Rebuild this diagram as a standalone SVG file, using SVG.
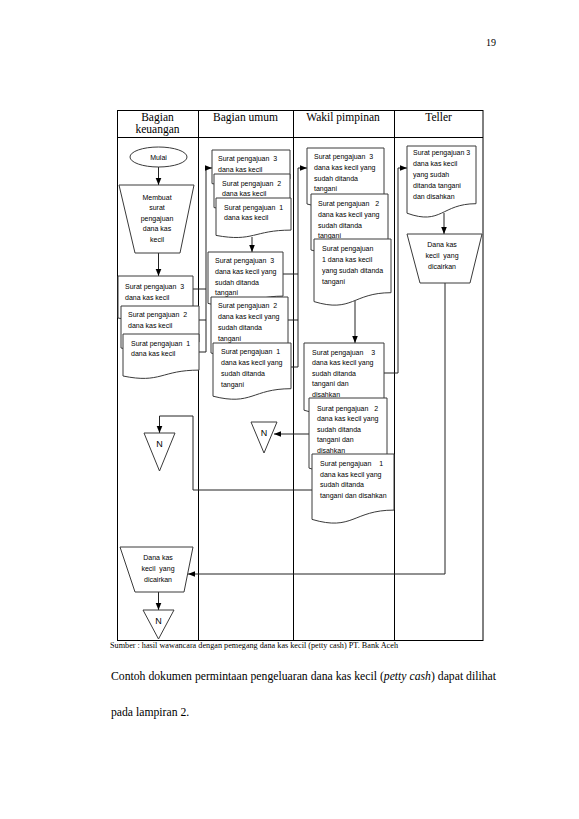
<svg xmlns="http://www.w3.org/2000/svg" width="579" height="819" viewBox="0 0 579 819">
<defs>
<style>
.hd{font-family:"Liberation Serif","Times New Roman",serif;font-size:11.5px;fill:#000;text-anchor:middle}
.t{font-family:"Liberation Sans",Arial,sans-serif;font-size:7px;fill:#000;white-space:pre}
.c{text-anchor:middle}
.shp{fill:#fff;stroke:#3a3a3a;stroke-width:1}
.ln{fill:none;stroke:#000;stroke-width:1}
.cn{fill:none;stroke:#222;stroke-width:1}
.n{font-family:"Liberation Sans",Arial,sans-serif;font-size:9px;fill:#000;text-anchor:middle}
.sr{font-family:"Liberation Serif","Times New Roman",serif;fill:#000}
</style>
<marker id="ah" viewBox="0 0 10 10" refX="10" refY="5" markerWidth="7" markerHeight="7" orient="auto" markerUnits="userSpaceOnUse"><path d="M0,1 L10,5 L0,9 Z" fill="#000"/></marker>
</defs>
<rect width="579" height="819" fill="#fff"/>
<text class="sr" x="496" y="45.5" font-size="10" text-anchor="end">19</text>

<g id="lanes">
<rect class="ln" x="117.5" y="110.5" width="365.5" height="530"/>
<line class="ln" x1="117.5" y1="137.5" x2="483" y2="137.5"/>
<line class="ln" x1="198.5" y1="110.5" x2="198.5" y2="640.5"/>
<line class="ln" x1="293.5" y1="110.5" x2="293.5" y2="640.5"/>
<line class="ln" x1="394.5" y1="110.5" x2="394.5" y2="640.5"/>
<text class="hd" x="157.5" y="121">Bagian</text>
<text class="hd" x="157.5" y="133">keuangan</text>
<text class="hd" x="245.5" y="121">Bagian umum</text>
<text class="hd" x="343" y="121">Wakil pimpinan</text>
<text class="hd" x="438.5" y="121">Teller</text>
</g>

<g id="connectors">
<line class="cn" x1="158.5" y1="167" x2="158.5" y2="185" marker-end="url(#ah)"/>
<line class="cn" x1="158.5" y1="253" x2="158.5" y2="276" marker-end="url(#ah)"/>
<polyline class="cn" points="193,289 206,289"/>
<polyline class="cn" points="199,320 206,320"/>
<polyline class="cn" points="199,352 206,352 206,168 212,168" marker-end="url(#ah)"/>
<line class="cn" x1="252" y1="237" x2="252" y2="252" marker-end="url(#ah)"/>
<polyline class="cn" points="283,274 298,274"/>
<polyline class="cn" points="288,320 298,320"/>
<polyline class="cn" points="291,367 298,367 298,168 307,168" marker-end="url(#ah)"/>
<line class="cn" x1="355" y1="301" x2="355" y2="343" marker-end="url(#ah)"/>
<polyline class="cn" points="384,373 398,373 398,168 407,168" marker-end="url(#ah)"/>
<line class="cn" x1="309" y1="434" x2="274" y2="434" marker-end="url(#ah)"/>
<polyline class="cn" points="312,490 193,490 193,416 159.5,416 159.5,433" marker-end="url(#ah)"/>
<line class="cn" x1="444" y1="213" x2="444" y2="234" marker-end="url(#ah)"/>
<polyline class="cn" points="445,283 445,574 188,574" marker-end="url(#ah)"/>
<line class="cn" x1="158.5" y1="592" x2="158.5" y2="610" marker-end="url(#ah)"/>
</g>

<g id="mulai">
<ellipse class="shp" cx="158.5" cy="157" rx="28.5" ry="10"/>
<text class="t c" x="158.5" y="159.5">Mulai</text>
</g>

<g id="membuat">
<path class="shp" d="M119,185 H194 L180,253 H135 Z"/>
<text class="t c" x="157" y="199.5">Membuat</text>
<text class="t c" x="157" y="210">surat</text>
<text class="t c" x="157" y="220.5">pengajuan</text>
<text class="t c" x="157" y="231">dana kas</text>
<text class="t c" x="157" y="241.5">kecil</text>
</g>

<g id="keu-docs">
<path class="shp" d="M118,276 H193 V312.1 C155.5,312.1 155.5,325.8 118,318 Z"/>
<text class="t" x="125" y="288.5">Surat pengajuan  3</text>
<text class="t" x="125" y="299.5">dana kas kecil</text>
<path class="shp" d="M121,306 H199 V342.1 C160,342.1 160,355.8 121,348 Z"/>
<text class="t" x="128" y="316.5">Surat pengajuan  2</text>
<text class="t" x="128" y="327.5">dana kas kecil</text>
<path class="shp" d="M123,334 H199 V370.1 C161,370.1 161,383.8 123,376 Z"/>
<text class="t" x="131" y="345.5">Surat pengajuan  1</text>
<text class="t" x="131" y="356">dana kas kecil</text>
</g>

<g id="umum-docs-a">
<path class="shp" d="M212,150 H290 V178.9 C251,178.9 251,189.9 212,183.6 Z"/>
<text class="t" x="218" y="160.5">Surat pengajuan  3</text>
<text class="t" x="218" y="172">dana kas kecil</text>
<path class="shp" d="M214,174 H290 V202.9 C252,202.9 252,213.9 214,207.6 Z"/>
<text class="t" x="222" y="185.5">Surat pengajuan  2</text>
<text class="t" x="222" y="196">dana kas kecil</text>
<path class="shp" d="M216,198 H291 V230.1 C253.5,230.1 253.5,242.3 216,235.4 Z"/>
<text class="t" x="224" y="209.5">Surat pengajuan  1</text>
<text class="t" x="224" y="220">dana kas kecil</text>
</g>

<g id="umum-docs-b">
<path class="shp" d="M208,252 H283 V296.1 C245.5,296.1 245.5,312.9 208,303.4 Z"/>
<text class="t" x="215" y="262.5">Surat pengajuan  3</text>
<text class="t" x="215" y="273.5">dana kas kecil yang</text>
<text class="t" x="215" y="284.5">sudah ditanda</text>
<text class="t" x="215" y="295">tangani</text>
<path class="shp" d="M211,297 H288 V345.1 C249.5,345.1 249.5,363.4 211,353 Z"/>
<text class="t" x="218" y="307.5">Surat pengajuan  2</text>
<text class="t" x="218" y="318.5">dana kas kecil yang</text>
<text class="t" x="218" y="330">sudah ditanda</text>
<text class="t" x="218" y="340.5">tangani</text>
<path class="shp" d="M213,343 H291 V388.7 C252,388.7 252,406.1 213,396.2 Z"/>
<text class="t" x="221" y="353.5">Surat pengajuan  1</text>
<text class="t" x="221" y="364.5">dana kas kecil yang</text>
<text class="t" x="221" y="376">sudah ditanda</text>
<text class="t" x="221" y="387">tangani</text>
</g>

<g id="wakil-docs-a">
<path class="shp" d="M307,148 H384 V196.1 C345.5,196.1 345.5,214.4 307,204 Z"/>
<text class="t" x="314" y="158.5">Surat pengajuan  3</text>
<text class="t" x="314" y="169.5">dana kas kecil yang</text>
<text class="t" x="314" y="180.5">sudah ditanda</text>
<text class="t" x="314" y="191">tangani</text>
<path class="shp" d="M311,194 H388 V242.1 C349.5,242.1 349.5,260.4 311,250 Z"/>
<text class="t" x="318" y="205.5">Surat pengajuan   2</text>
<text class="t" x="318" y="216.5">dana kas kecil yang</text>
<text class="t" x="318" y="227.5">sudah ditanda</text>
<text class="t" x="318" y="238">tangani</text>
<path class="shp" d="M314,239 H391 V292.7 C352.5,292.7 352.5,313.2 314,301.6 Z"/>
<text class="t" x="322" y="250.5">Surat pengajuan</text>
<text class="t" x="322" y="261.5">1 dana kas kecil</text>
<text class="t" x="322" y="273">yang sudah ditanda</text>
<text class="t" x="322" y="284">tangani</text>
</g>

<g id="wakil-docs-b">
<path class="shp" d="M304,343 H384 V400.7 C344,400.7 344,422.7 304,410.2 Z"/>
<text class="t" x="312" y="354.5">Surat pengajuan    3</text>
<text class="t" x="312" y="365">dana kas kecil yang</text>
<text class="t" x="312" y="375.5">sudah ditanda</text>
<text class="t" x="312" y="386">tangani dan</text>
<text class="t" x="312" y="396.5">disahkan</text>
<path class="shp" d="M309,398 H387 V458.2 C348,458.2 348,481 309,468.1 Z"/>
<text class="t" x="317" y="410.5">Surat pengajuan   2</text>
<text class="t" x="317" y="421">dana kas kecil yang</text>
<text class="t" x="317" y="431.5">sudah ditanda</text>
<text class="t" x="317" y="442">tangani dan</text>
<text class="t" x="317" y="452.5">disahkan</text>
<path class="shp" d="M312,454 H394 V510.1 C353,510.1 353,531.5 312,519.4 Z"/>
<text class="t" x="320" y="465.5">Surat pengajuan    1</text>
<text class="t" x="320" y="476.5">dana kas kecil yang</text>
<text class="t" x="320" y="486.5">sudah ditanda</text>
<text class="t" x="320" y="497.5">tangani dan disahkan</text>
</g>

<g id="teller-doc">
<path class="shp" d="M407,146 H476 V203.7 C441.5,203.7 441.5,225.7 407,213.2 Z"/>
<text class="t" x="413" y="155">Surat pengajuan 3</text>
<text class="t" x="413" y="166">dana kas kecil</text>
<text class="t" x="413" y="177">yang sudah</text>
<text class="t" x="413" y="188">ditanda tangani</text>
<text class="t" x="413" y="199">dan disahkan</text>
</g>

<g id="teller-cair">
<path class="shp" d="M407,234 H482 L470,283 H420 Z"/>
<text class="t c" x="442" y="246.5">Dana kas</text>
<text class="t c" x="442" y="257.5">kecil  yang</text>
<text class="t c" x="442" y="268.5">dicairkan</text>
</g>

<g id="n-umum">
<path class="shp" d="M251,422 H277 L264,453 Z"/>
<text class="n" x="264" y="436">N</text>
</g>

<g id="n-keu-1">
<path class="shp" d="M144,433 H175 L159.5,471 Z"/>
<text class="n" x="159.5" y="447">N</text>
</g>

<g id="keu-cair">
<path class="shp" d="M120,547 H193 L184,592 H135 Z"/>
<text class="t c" x="158" y="559.5">Dana kas</text>
<text class="t c" x="158" y="570.5">kecil  yang</text>
<text class="t c" x="158" y="581.5">dicairkan</text>
</g>

<g id="n-keu-2">
<path class="shp" d="M143,610 H174 L158.5,639 Z"/>
<text class="n" x="158.5" y="623.5">N</text>
</g>

<text class="sr" x="110" y="648" font-size="7.6" textLength="288" lengthAdjust="spacingAndGlyphs">Sumber : hasil wawancara dengan pemegang dana kas kecil (petty cash) PT. Bank Aceh</text>
<text class="sr" x="111" y="680" font-size="11.7" textLength="385">Contoh dokumen permintaan pengeluaran dana kas kecil (<tspan font-style="italic">petty cash</tspan>) dapat dilihat</text>
<text class="sr" x="111" y="716" font-size="11.7">pada lampiran 2.</text>
</svg>
